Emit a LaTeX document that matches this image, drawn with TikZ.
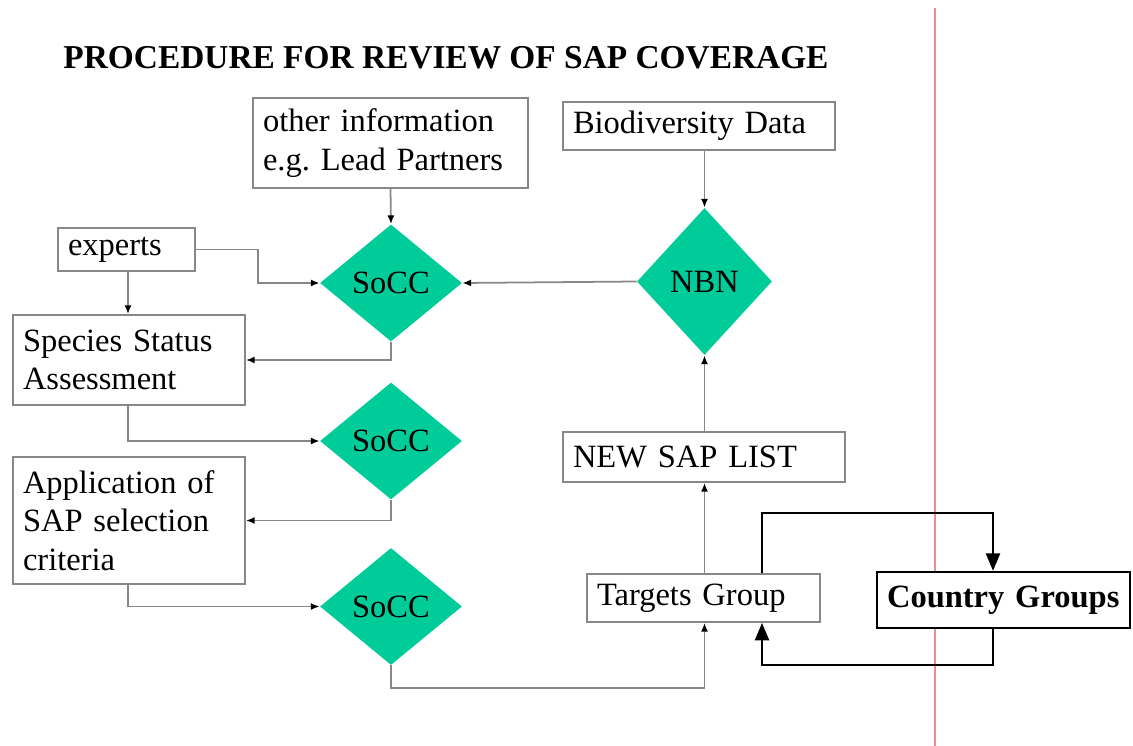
\documentclass[tikz,border=0pt]{standalone}
\usepackage{fontspec}
\setmainfont{Liberation Serif}
\usetikzlibrary{shapes.geometric, arrows.meta}
\definecolor{soccgreen}{RGB}{0,204,153}
\definecolor{linegray}{RGB}{135,135,135}
\definecolor{rulered}{RGB}{240,140,140}

\tikzset{
  box/.style={draw=linegray, fill=white, line width=1pt, align=left, inner xsep=0.2cm, inner ysep=0pt,
    font=\fontsize{18.5}{22}\selectfont},
  decision/.style={diamond, fill=soccgreen, inner sep=0pt, minimum width=2.84cm, minimum height=2.34cm,
    font=\fontsize{18.5}{22}\selectfont},
  flow/.style={draw=linegray, line width=1pt, -{Latex[length=5pt,width=4pt,color=black]}},
  link/.style={draw=black, line width=1.3pt, -{Triangle[length=10pt,width=8pt]}}
}

\begin{document}
\begin{tikzpicture}[x=0.02cm, y=-0.02cm]
\useasboundingbox (0,0) rectangle (1133,746);

% Title
\node[font=\fontsize{19}{22}\selectfont\bfseries] (title) at (446,58) {PROCEDURE FOR REVIEW OF SAP COVERAGE};

% Red rule
\draw[rulered, line width=1.2pt] (935,8) -- (935,746);

% Boxes
\node[box, text width=5.1cm, minimum height=1.8cm] (other) at (390.5,143) {other information\\e.g.\ Lead Partners};
\node[box, text width=5.04cm, minimum height=0.96cm] (bio) at (699,126) {Biodiversity Data};
\node[box, text width=2.34cm, minimum height=0.86cm] (experts) at (126.5,249.5) {experts};
\node[box, text width=4.24cm, minimum height=1.8cm] (species) at (129,360) {Species Status\\Assessment};
\node[box, text width=5.24cm, minimum height=1.0cm] (newsap) at (704,457) {NEW SAP LIST};
\node[box, text width=4.24cm, minimum height=2.54cm] (appl) at (129,520.5) {Application of\\SAP selection\\criteria};
\node[box, text width=4.26cm, minimum height=0.96cm] (targets) at (703.5,598) {Targets Group};
\node[box, draw=black, line width=1.3pt, text width=4.66cm, minimum height=1.12cm, font=\fontsize{18.5}{22}\selectfont\bfseries] (country) at (1003.5,600) {Country Groups};

% Diamonds
\node[decision] (soccA) at (391,283) {SoCC};
\node[decision] (soccB) at (391,441) {SoCC};
\node[decision] (soccC) at (391,606.5) {SoCC};
\node[decision, minimum width=2.7cm, minimum height=2.94cm] (nbn) at (704.5,281.5) {NBN};

% Grey connectors
\draw[flow] (other.south) -- (soccA.north);
\draw[flow] (nbn.north |- bio.south) -- (nbn.north);
\draw[flow] (experts.east) -| (258,283) -- (soccA.west);
\draw[flow] (128,271) -- (species.north -| 128,0);
\draw[flow] (nbn.west) -- (soccA.east);
\draw[flow] (soccA.south) |- (species.east);
\draw[flow] (species.south -| 128,0) |- (soccB.west);
\draw[flow] (soccB.south) |- (appl.east);
\draw[flow] (appl.south -| 128,0) |- (soccC.west);
\draw[flow] (soccC.south) -- (391,688) -| (targets.south -| nbn.south);
\draw[flow] (targets.north -| nbn.south) -- (newsap.south -| nbn.south);
\draw[flow] (newsap.north -| nbn.south) -- (nbn.south);

% Black loop with the country groups
\draw[link] (targets.north -| 762,0) |- (993,513) -- (country.north -| 993,0);
\draw[link] (country.south -| 993,0) |- (762,665) -- (targets.south -| 762,0);
\end{tikzpicture}
\end{document}
